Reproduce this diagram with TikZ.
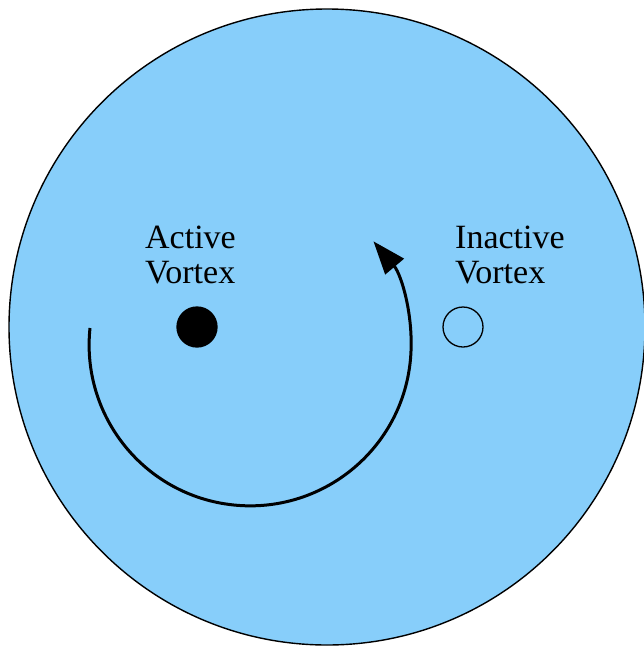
\documentclass[tikz,border=0pt]{standalone}
\usepackage{fontspec}
\setmainfont{Liberation Serif}
\usetikzlibrary{arrows.meta}
\definecolor{sky}{RGB}{135,206,250}
\begin{document}
\begin{tikzpicture}[x=1pt,y=-1pt,
  lbl/.style={anchor=base west,inner sep=0pt,font=\fontsize{34}{35}\selectfont},
  disk/.style={circle,draw=black,line width=1.4pt,fill=sky,minimum size=636pt,inner sep=0pt},
  vort/.style={circle,draw=black,line width=1.3pt,minimum size=40pt,inner sep=0pt}]
\useasboundingbox (0,0) rectangle (644,646);
\node[disk] (big) at (327,327) {};
\node[vort,fill=black] (act) at (197,327) {};
\node[vort] (inact) at (463,327) {};
\node[lbl] (a1) at (145,248) {Active};
\node[lbl] (a2) at (145,283) {Vortex};
\node[lbl] (i1) at (455,248) {Inactive};
\node[lbl] (i2) at (455,283) {Vortex};
\coordinate (s) at (90,328);
\draw[line width=3pt,-{Triangle[length=33pt,width=24pt]}] (s) arc[start angle=186,end angle=-40,radius=161];
\end{tikzpicture}
\end{document}
